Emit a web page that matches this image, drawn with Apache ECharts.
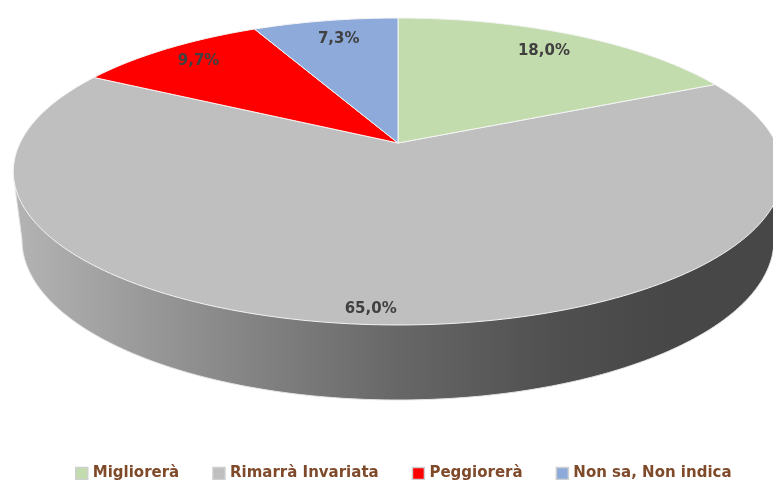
<!DOCTYPE html>
<html><head><meta charset="utf-8">
<style>html,body{margin:0;padding:0;background:#fff}#c{width:773px;height:480px}</style>
<script src="https://cdn.jsdelivr.net/npm/echarts@6/dist/echarts.min.js"></script>
</head><body><div id="c"></div>
<script>
const categories = ['Migliorerà', 'Rimarrà Invariata', 'Peggiorerà', 'Non sa, Non indica'];
const shares = [18.0, 65.0, 9.7, 7.3];
const labels = ['18,0%', '65,0%', '9,7%', '7,3%'];
const colors = ['#c3dcae', '#bfbfbf', '#ff0000', '#8eaadb'];

const total = shares.reduce((a, b) => a + b, 0);
const view = { cx: 398, cy: 143, a: 378, b: 148.2, k: 0.1856 };
const base = { cx: 398, cy: 240, a: 376, b: 160 };

function project(theta, r) {
  const u = r * Math.sin(theta), v = r * Math.cos(theta), d = 1 + view.k * v;
  return [view.cx + view.a * u / d, view.cy - view.b * v / d];
}
function startOf(i) {
  let s = 0;
  for (let j = 0; j < i; j++) s += shares[j];
  return s;
}
function sectorPoints(i, value) {
  const t0 = startOf(i) / total * 2 * Math.PI, t1 = t0 + value / total * 2 * Math.PI;
  const pts = [project(0, 0)], n = Math.ceil(value * 3);
  for (let s = 0; s <= n; s++) pts.push(project(t0 + (t1 - t0) * s / n, 1));
  return pts;
}
function wallShape() {
  const pts = [[view.cx - 385, 172]];
  for (let s = 0; s <= 180; s++) {
    const t = Math.PI - s / 180 * Math.PI;
    pts.push([base.cx + base.a * Math.cos(t), base.cy + base.b * Math.sin(t)]);
  }
  pts.push([view.cx + 385, 172]);
  return pts;
}
const wallFill = { type: 'linear', x: 0, y: 0, x2: 1, y2: 0, colorStops: [
  { offset: 0, color: '#b4b4b4' }, { offset: 0.3, color: '#858585' },
  { offset: 0.5, color: '#676767' }, { offset: 0.7, color: '#505050' },
  { offset: 0.85, color: '#474747' }, { offset: 1, color: '#474747' }] };
const labelRadius = [0.85, 0.93, 0.85, 0.85];
const labelShiftX = [-6, -14, 0, 4];
const labelShiftY = [2, 0, 0, 2];

const series = categories.map((name, i) => ({
  name, type: 'custom', coordinateSystem: 'none', silent: true,
  z: i === 1 ? 1 : 2,
  itemStyle: { color: colors[i] },
  data: [[shares[i]]],
  renderItem: (params, api) => {
    const value = api.value(0);
    const mid = (startOf(i) + value / 2) / total * 2 * Math.PI;
    const p = project(mid, labelRadius[i]);
    const children = [];
    if (i === 1) children.push({ type: 'polygon', shape: { points: wallShape() },
      style: { fill: wallFill, stroke: '#e4e4e4', lineWidth: 1 } });
    children.push({ type: 'polygon', shape: { points: sectorPoints(i, value) },
      style: { fill: colors[i], stroke: '#f4f4f4', lineWidth: 1 } });
    children.push({ type: 'text', z2: 10, style: { x: p[0] + labelShiftX[i], y: p[1] + labelShiftY[i], text: labels[i],
      align: 'center', verticalAlign: 'middle', fill: '#404040',
      font: 'bold 15px "DejaVu Sans"' } });
    return { type: 'group', children };
  }
}));

const chart = echarts.init(document.getElementById('c'), null, { renderer: 'canvas' });
chart.setOption({
  animation: false,
  legend: {
    data: categories, left: 70, top: 461, itemWidth: 12, itemHeight: 12, itemGap: 33,
    icon: 'rect', selectedMode: false,
    itemStyle: { borderColor: '#cfcfcf', borderWidth: 1.5 },
    textStyle: { color: '#7f4a2a', fontFamily: 'DejaVu Sans', fontWeight: 'bold', fontSize: 15 }
  },
  series
});
</script></body></html>
